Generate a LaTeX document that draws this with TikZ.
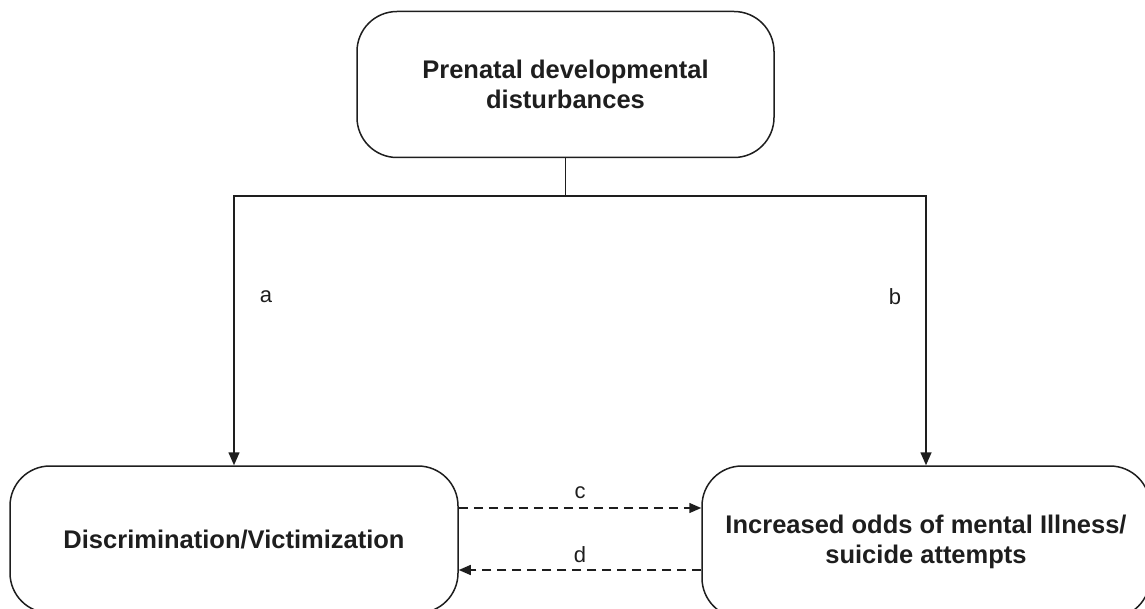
\documentclass[tikz,border=0pt]{standalone}
\usepackage{fontspec}
\setmainfont{Liberation Sans}
\usetikzlibrary{arrows.meta}
\definecolor{ink}{HTML}{1E1E1E}
\tikzset{
  box/.style={draw=ink, line width=1.5pt, rounded corners=40pt, align=center,
    font=\bfseries\fontsize{25.5}{30}\selectfont, text=ink, inner sep=0pt},
  arr/.style={draw=ink, line width=1.5pt, -{Triangle[length=13pt,width=11pt]}},
  darr/.style={draw=ink, line width=1.5pt, dash pattern=on 9pt off 6pt, -{Triangle[length=12pt,width=10pt]}},
  lab/.style={font=\fontsize{22}{26}\selectfont, text=ink, inner sep=0pt},
}
\begin{document}
\begin{tikzpicture}[x=1pt,y=-1pt]
\useasboundingbox (0,0) rectangle (1145,609);
\clip (0,0) rectangle (1145,609);
\node[box, minimum width=417pt, minimum height=146pt] (top) at (565.5,84.5) {Prenatal developmental\\disturbances};
\node[box, minimum width=448pt, minimum height=147pt] (left) at (234,539.5) {Discrimination/Victimization};
\node[box, minimum width=448pt, minimum height=152pt] (right) at (926,542) {Increased odds of mental Illness/\\suicide attempts};
\coordinate (la) at (234,196);
\coordinate (rb) at (926,196);
\coordinate (cy) at (0,508);
\coordinate (dy) at (0,570);
\draw[arr] (top.south) |- (la) -- (left.north);
\draw[arr] (top.south) |- (rb) -- (right.north);
\draw[darr] (left.east |- cy) -- (right.west |- cy) node[lab, midway, yshift=15pt] (lc) {c};
\draw[darr] (right.west |- dy) -- (left.east |- dy) node[lab, midway, yshift=15.5pt] (ld) {d};
\node[lab] (labA) at (266,297) {a};
\node[lab] (labB) at (895,297) {b};
\end{tikzpicture}
\end{document}
